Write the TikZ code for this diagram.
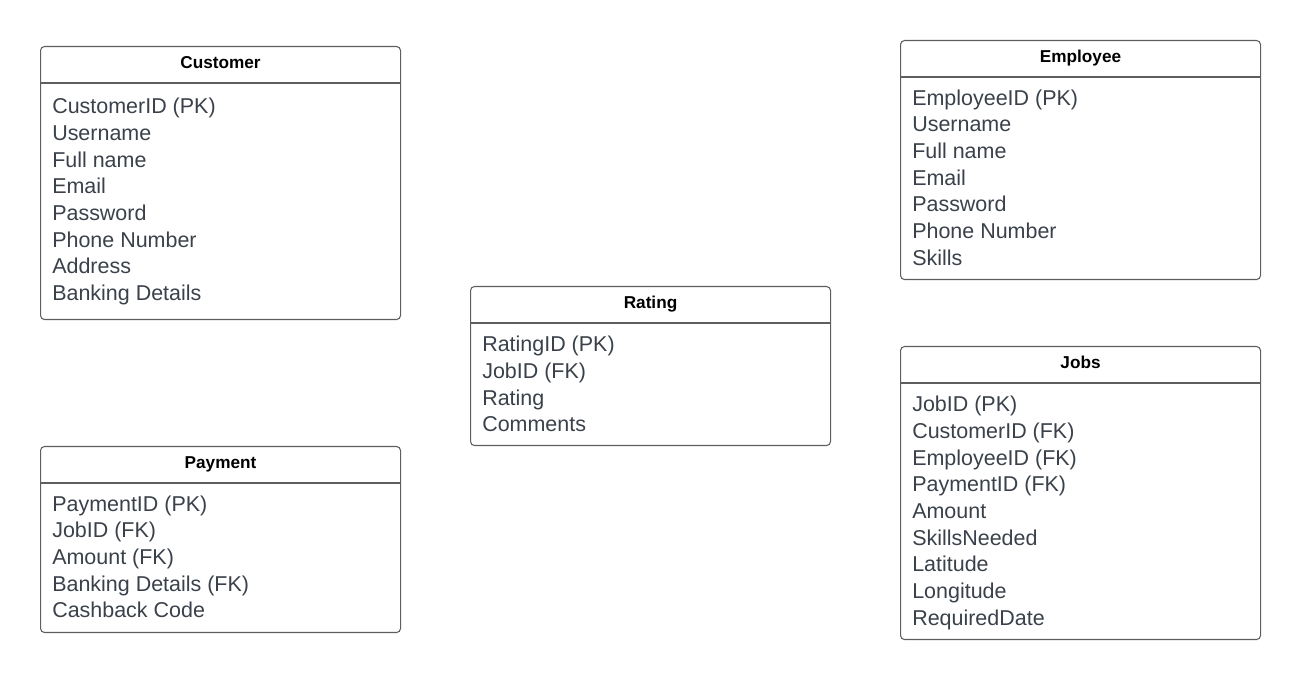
\documentclass[tikz,border=0pt]{standalone}
\usepackage{fontspec}
\setmainfont{Liberation Sans}
\usetikzlibrary{positioning}
\definecolor{rimgray}{HTML}{5E5E5E}
\definecolor{fieldtext}{HTML}{3A414A}

\begin{document}
\begin{tikzpicture}[x=0.75pt, y=-0.75pt,
  tbl/.style={draw=rimgray, line width=0.8pt, rounded corners=3pt, minimum width=270pt, anchor=north west, inner sep=0pt},
  hdr/.style={draw=rimgray, line width=0.8pt},
  ttl/.style={anchor=base, inner sep=0pt, font=\fontsize{12.9}{15}\selectfont\bfseries},
  fields/.style={anchor=north west, inner sep=0pt, align=left, text=fieldtext, font=\fontsize{16.1}{20}\selectfont, execute at begin node=\strut}]
\useasboundingbox (0,0) rectangle (1300,680);

\node[tbl, minimum height=204.75pt] (customer) at (40,46) {};
\draw[hdr] ([yshift=-27.75pt]customer.north west) -- ([yshift=-27.75pt]customer.north east);
\node[ttl] (customerT) at ([yshift=-16.75pt]customer.north) {Customer};
\node[fields] (customerF) at ([xshift=9pt, yshift=-39pt]customer.north west)
{CustomerID (PK)\\ Username\\ Full name\\ Email\\ Password\\ Phone Number\\ Address\\ Banking Details};

\node[tbl, minimum height=179.25pt] (employee) at (900,40) {};
\draw[hdr] ([yshift=-27.75pt]employee.north west) -- ([yshift=-27.75pt]employee.north east);
\node[ttl] (employeeT) at ([yshift=-16.75pt]employee.north) {Employee};
\node[fields] (employeeF) at ([xshift=9pt, yshift=-37pt]employee.north west)
{EmployeeID (PK)\\ Username\\ Full name\\ Email\\ Password\\ Phone Number\\ Skills};

\node[tbl, minimum height=119.25pt] (rating) at (470,286) {};
\draw[hdr] ([yshift=-27.75pt]rating.north west) -- ([yshift=-27.75pt]rating.north east);
\node[ttl] (ratingT) at ([yshift=-16.75pt]rating.north) {Rating};
\node[fields] (ratingF) at ([xshift=9pt, yshift=-37.5pt]rating.north west)
{RatingID (PK)\\ JobID (FK)\\ Rating\\ Comments};

\node[tbl, minimum height=139.5pt] (payment) at (40,446) {};
\draw[hdr] ([yshift=-27.75pt]payment.north west) -- ([yshift=-27.75pt]payment.north east);
\node[ttl] (paymentT) at ([yshift=-16.75pt]payment.north) {Payment};
\node[fields] (paymentF) at ([xshift=9pt, yshift=-37pt]payment.north west)
{PaymentID (PK)\\ JobID (FK)\\ Amount (FK)\\ Banking Details (FK)\\ Cashback Code};

\node[tbl, minimum height=219.75pt] (jobs) at (900,346) {};
\draw[hdr] ([yshift=-27.75pt]jobs.north west) -- ([yshift=-27.75pt]jobs.north east);
\node[ttl] (jobsT) at ([yshift=-16.75pt]jobs.north) {Jobs};
\node[fields] (jobsF) at ([xshift=9pt, yshift=-37.5pt]jobs.north west)
{JobID (PK)\\ CustomerID (FK)\\ EmployeeID (FK)\\ PaymentID (FK)\\ Amount\\ SkillsNeeded\\ Latitude\\ Longitude\\ RequiredDate};
\end{tikzpicture}
\end{document}
